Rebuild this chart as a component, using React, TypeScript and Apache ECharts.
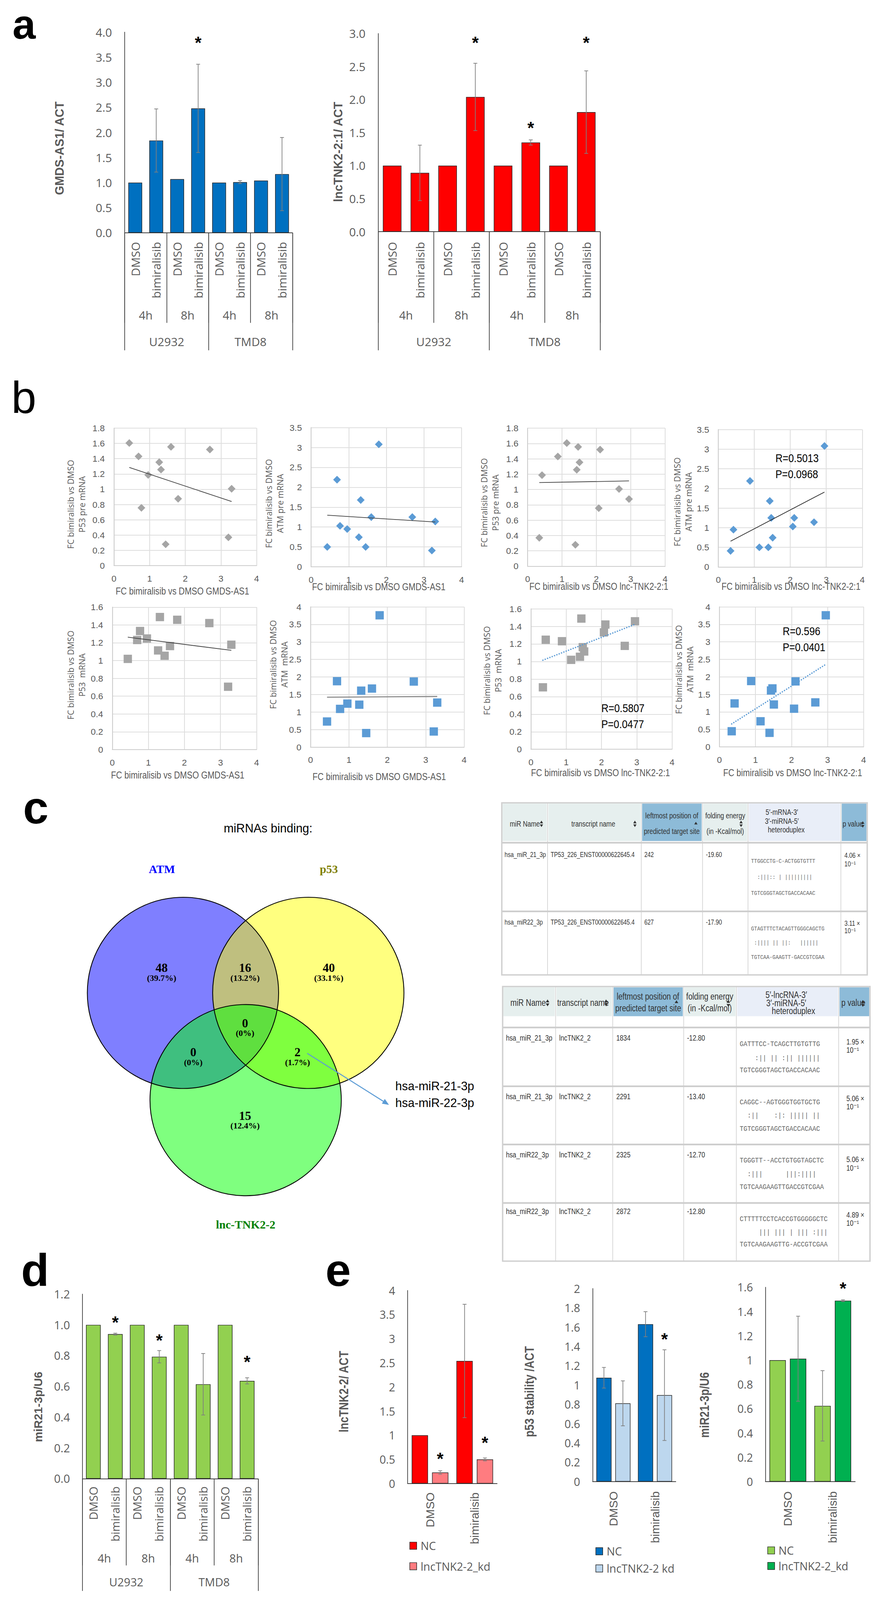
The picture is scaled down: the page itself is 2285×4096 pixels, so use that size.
import React, { useEffect, useRef } from "react";
import * as echarts from "echarts";

const PAGE_W = 2285;
const PAGE_H = 4096;
const K = PAGE_W / 3221;
const k = (v: number) => v * K;

const SEGOE = "'Open Sans', 'Noto Sans', 'DejaVu Sans', sans-serif";
const ARIAL = "'Liberation Sans', Arial, 'DejaVu Sans', sans-serif";
const TIMES = "'Liberation Serif', 'Times New Roman', 'DejaVu Serif', serif";
const MONO = "'Liberation Mono', 'DejaVu Sans Mono', monospace";
const GRAY_TXT = "#595959";
const AXIS_DARK = "#404040";
const TABLE_TXT = "#333333";

// ---------------- Panel a ----------------
const conditions = ["DMSO", "bimiralisib", "DMSO", "bimiralisib", "DMSO", "bimiralisib", "DMSO", "bimiralisib"];
const timePoints = ["4h", "8h", "4h", "8h"];
const cellLines = ["U2932", "TMD8"];
const gmdsMean = [1.0, 1.84, 1.07, 2.48, 1.0, 1.01, 1.04, 1.17];
const gmdsErr = [0, 0.63, 0, 0.88, 0, 0.03, 0, 0.73];
const gmdsStar = [null, null, null, 3.86, null, null, null, null];
const lnc21Mean = [1.0, 0.89, 1.0, 2.04, 1.0, 1.35, 1.0, 1.81];
const lnc21Err = [0, 0.42, 0, 0.51, 0, 0.04, 0, 0.625];
const lnc21Star = [null, null, null, 2.92, null, 1.63, null, 2.92];

// ---------------- Panel b (12 paired samples) ----------------
const fcGmds = [0.43, 0.69, 0.77, 0.96, 1.27, 1.32, 1.45, 1.6, 1.8, 2.69, 3.21, 3.3];
const fcLnc = [1.14, 0.88, 2.07, 0.42, 1.51, 1.43, 1.39, 1.47, 2.95, 2.11, 0.34, 2.66];
const p53PreFC = [1.605, 1.43, 0.756, 1.187, 1.354, 1.257, 0.279, 1.555, 0.875, 1.52, 0.37, 1.006];
const atmPreFC = [0.5, 2.19, 1.03, 0.95, 0.745, 1.68, 0.5, 1.25, 3.08, 1.25, 0.41, 1.14];
const p53FC = [1.019, 1.231, 1.332, 1.248, 1.114, 1.489, 1.054, 1.163, 1.458, 1.421, 0.706, 1.178];
const atmFC = [0.73, 1.88, 1.09, 1.24, 1.21, 1.61, 0.4, 1.67, 3.76, 1.87, 0.445, 1.27];
const corrLabels = [["R=0.5013", "P=0.0968"], ["R=0.5807", "P=0.0477"], ["R=0.596", "P=0.0401"]];

// ---------------- Panel c ----------------
const vennSets = ["ATM", "p53", "lnc-TNK2-2"];
const vennCounts = ["48", "16", "40", "0", "0", "2", "15"];
const vennPercents = ["(39.7%)", "(13.2%)", "(33.1%)", "(0%)", "(0%)", "(1.7%)", "(12.4%)"];
const sharedMirnas = ["hsa-miR-21-3p", "hsa-miR-22-3p"];

const mrnaHeader = ["miR Name", "transcript name", "leftmost position of", "predicted target site", "folding energy", "(in -Kcal/mol)", "5′-mRNA-3′", "3′-miRNA-5′", "heteroduplex", "p value"];
const mrnaMir = ["hsa_miR_21_3p", "hsa_miR22_3p"];
const mrnaTranscript = ["TP53_226_ENST00000622645.4", "TP53_226_ENST00000622645.4"];
const mrnaPos = ["242", "627"];
const mrnaEnergy = ["-19.60", "-17.90"];
const mrnaDuplex = [
  ["TTGGCCTG-C-ACTGGTGTTT", "  :|||:: | |||||||||", "TGTCGGGTAGCTGACCACAAC"],
  ["GTAGTTTCTACAGTTGGGCAGCTG", " :|||| || ||:   ||||||", "TGTCAA-GAAGTT-GACCGTCGAA"],
];
const mrnaP = [["4.06 ×", "10⁻¹"], ["3.11 ×", "10⁻¹"]];

const lncHeader = ["miR Name", "transcript name", "leftmost position of", "predicted target site", "folding energy", "(in -Kcal/mol)", "5′-lncRNA-3′", "3′-miRNA-5′", "heteroduplex", "p value"];
const lncMir = ["hsa_miR_21_3p", "hsa_miR_21_3p", "hsa_miR22_3p", "hsa_miR22_3p"];
const lncTranscript = ["lncTNK2_2", "lncTNK2_2", "lncTNK2_2", "lncTNK2_2"];
const lncPos = ["1834", "2291", "2325", "2872"];
const lncEnergy = ["-12.80", "-13.40", "-12.70", "-12.80"];
const lncDuplex = [
  ["GATTTCC-TCAGCTTGTGTTG", "    :|| || :|| ||||||", "TGTCGGGTAGCTGACCACAAC"],
  ["CAGGC--AGTGGGTGGTGCTG", "  :||    :|: ||||| ||", "TGTCGGGTAGCTGACCACAAC"],
  ["TGGGTT--ACCTGTGGTAGCTC", "  :|||      |||:||||", "TGTCAAGAAGTTGACCGTCGAA"],
  ["CTTTTTCCTCACCGTGGGGGCTC", "     ||| ||| | ||| :|||", "TGTCAAGAAGTTG-ACCGTCGAA"],
];
const lncP = [["1.95 ×", "10⁻¹"], ["5.06 ×", "10⁻¹"], ["5.06 ×", "10⁻¹"], ["4.89 ×", "10⁻¹"]];

// ---------------- Panel d ----------------
const mir21Mean = [1.0, 0.94, 1.0, 0.793, 1.0, 0.614, 1.0, 0.636];
const mir21Err = [0, 0.006, 0, 0.04, 0, 0.2, 0, 0.02];
const mir21Star = [null, 1.04, null, 0.924, null, null, null, 0.784];

// ---------------- Panel e ----------------
const kdCats = ["DMSO", "bimiralisib"];
const lncKdNC = [1.0, 2.54];
const lncKdNCErr = [0, 1.175];
const lncKdKD = [0.23, 0.5];
const lncKdKDErr = [0.035, 0.03];
const lncKdStar = [0.59, 0.92];
const p53StabNC = [1.076, 1.631];
const p53StabNCErr = [0.107, 0.13];
const p53StabKD = [0.811, 0.896];
const p53StabKDErr = [0.233, 0.47];
const p53StabStar = [null, 1.515];
const mirKdNC = [1.0, 0.624];
const mirKdNCErr = [0, 0.29];
const mirKdKD = [1.012, 1.49];
const mirKdKDErr = [0.35, 0.007];
const mirKdStar = [null, 1.62];
const legendNames = [["NC", "lncTNK2-2_kd"], ["NC", "lncTNK2-2 kd"], ["NC", "lncTNK2-2_kd"]];

// ================= helpers =================
function errRenderer(offsetFrac: number) {
  const cap = k(7);
  const star = k(62);
  return (params: any, api: any) => {
    const i = api.value(0);
    const m = api.value(1);
    const e = api.value(2);
    const s = api.value(3);
    const band = api.size([1, 0])[0];
    const p = api.coord([i, m]);
    const cx = p[0] + offsetFrac * band;
    const children: any[] = [];
    const st = { stroke: "#7f7f7f", lineWidth: k(2.5) };
    if (e > 0) {
      const yt = api.coord([i, m + e])[1];
      const yb = api.coord([i, m - e])[1];
      children.push({ type: "line", shape: { x1: cx, y1: yt, x2: cx, y2: yb }, style: st });
      children.push({ type: "line", shape: { x1: cx - cap, y1: yt, x2: cx + cap, y2: yt }, style: st });
      children.push({ type: "line", shape: { x1: cx - cap, y1: yb, x2: cx + cap, y2: yb }, style: st });
    }
    if (s > 0) {
      const ys = api.coord([i, s])[1];
      children.push({
        type: "text",
        x: cx,
        y: ys + 0.22 * star,
        style: { text: "*", fontSize: star, fontWeight: "bold", fontFamily: ARIAL, fill: "#000", align: "center", verticalAlign: "middle" },
      });
    }
    return { type: "group", children };
  };
}

function trendLine(xs: number[], ys: number[]) {
  const n = xs.length;
  const mx = xs.reduce((a, b) => a + b, 0) / n;
  const my = ys.reduce((a, b) => a + b, 0) / n;
  let sxy = 0;
  let sxx = 0;
  for (let i = 0; i < n; i++) {
    sxy += (xs[i] - mx) * (ys[i] - my);
    sxx += (xs[i] - mx) * (xs[i] - mx);
  }
  const b = sxy / sxx;
  const a = my - b * mx;
  const x0 = Math.min(...xs);
  const x1 = Math.max(...xs);
  return [[x0, a + b * x0], [x1, a + b * x1]];
}

function buildOption() {
  const grid: any[] = [];
  const xAxis: any[] = [];
  const yAxis: any[] = [];
  const series: any[] = [];
  const graphic: any[] = [];

  const addGrid = (l: number, t: number, r: number, b: number) => {
    grid.push({ left: k(l), top: k(t), width: k(r - l), height: k(b - t), containLabel: false, outerBoundsMode: "none", show: false });
    return grid.length - 1;
  };

  const txt = (s: string, x: number, y: number, o: any) => {
    graphic.push({
      type: "text",
      x: k(x),
      y: k(y),
      rotation: o.rot ?? 0,
      scaleX: o.sx ?? 1,
      silent: true,
      z: o.z ?? 60,
      style: {
        text: s,
        fontSize: k(o.size),
        fontFamily: o.family ?? ARIAL,
        fontWeight: o.weight ?? "normal",
        fill: o.color ?? "#000",
        align: o.align ?? "center",
        verticalAlign: o.va ?? "middle",
        lineHeight: o.lh ? k(o.lh) : undefined,
      },
    });
  };
  const ln = (x1: number, y1: number, x2: number, y2: number, color: string, w: number, z = 45) => {
    graphic.push({ type: "line", silent: true, z, shape: { x1: k(x1), y1: k(y1), x2: k(x2), y2: k(y2) }, style: { stroke: color, lineWidth: k(w) } });
  };
  const rc = (x: number, y: number, w: number, h: number, fill: string, stroke?: string, lw?: number, z = 40) => {
    graphic.push({
      type: "rect",
      silent: true,
      z,
      shape: { x: k(x), y: k(y), width: k(w), height: k(h) },
      style: { fill, stroke: stroke ?? "none", lineWidth: lw ? k(lw) : 0 },
    });
  };
  const poly = (pts: number[][], fill: string, z = 46) => {
    graphic.push({ type: "polygon", silent: true, z, shape: { points: pts.map((p) => [k(p[0]), k(p[1])]) }, style: { fill } });
  };

  // ---------- category bar panel ----------
  const catBarPanel = (p: any) => {
    const gi = addGrid(p.l, p.t, p.r, p.b);
    const xi = xAxis.length;
    xAxis.push({
      type: "category",
      gridIndex: gi,
      data: p.cats,
      position: "bottom",
      axisLine: { show: true, lineStyle: { color: AXIS_DARK, width: k(2.5) } },
      axisTick: { show: false },
      splitLine: { show: false },
      axisLabel: { interval: 0, rotate: 90, margin: k(p.catMargin), fontSize: k(p.catSize), fontFamily: p.catFamily, color: GRAY_TXT },
    });
    if (p.level2) {
      xAxis.push({
        type: "category",
        gridIndex: gi,
        data: p.level2,
        position: "bottom",
        axisLine: { show: false },
        axisTick: { show: true, length: k(p.l2Len), lineStyle: { color: AXIS_DARK, width: k(2.5) } },
        splitLine: { show: false },
        axisLabel: { interval: 0, margin: k(p.l2Margin), fontSize: k(p.catSize), fontFamily: p.catFamily, color: GRAY_TXT },
      });
      xAxis.push({
        type: "category",
        gridIndex: gi,
        data: p.level3,
        position: "bottom",
        axisLine: { show: false },
        axisTick: { show: true, length: k(p.l3Len), lineStyle: { color: AXIS_DARK, width: k(2.5) } },
        splitLine: { show: false },
        axisLabel: { interval: 0, margin: k(p.l3Margin), fontSize: k(p.catSize), fontFamily: p.catFamily, color: GRAY_TXT },
      });
    }
    const yi = yAxis.length;
    yAxis.push({
      type: "value",
      gridIndex: gi,
      min: 0,
      max: p.yMax,
      interval: p.yStep,
      axisLine: { show: true, lineStyle: { color: AXIS_DARK, width: k(2.5) } },
      axisTick: { show: false },
      splitLine: { show: false },
      axisLabel: {
        margin: k(p.yMargin),
        fontSize: k(p.tickSize),
        fontFamily: SEGOE,
        color: GRAY_TXT,
        formatter: p.decimals != null ? (v: number) => v.toFixed(p.decimals) : undefined,
      },
    });
    const n = p.bars.length;
    p.bars.forEach((bs: any) => {
      series.push({
        type: "bar",
        xAxisIndex: xi,
        yAxisIndex: yi,
        data: bs.data,
        barWidth: n === 1 ? p.barWidth : undefined,
        barGap: n > 1 ? "25%" : undefined,
        barCategoryGap: n > 1 ? "18%" : undefined,
        itemStyle: { color: bs.color, borderColor: "#262626", borderWidth: k(2) },
        silent: true,
        animation: false,
        z: 2,
      });
    });
    const offFrac = (0.82 * 1.25) / (2 * 2.25);
    p.bars.forEach((bs: any, si: number) => {
      const off = n === 1 ? 0 : si === 0 ? -offFrac : offFrac;
      series.push({
        type: "custom",
        xAxisIndex: xi,
        yAxisIndex: yi,
        renderItem: errRenderer(off),
        data: bs.data.map((m: number, i: number) => [i, m, bs.err[i], bs.star[i] ?? -1]),
        encode: { x: 0, y: 1 },
        silent: true,
        z: 5,
      });
    });
  };

  // ---------- scatter panel ----------
  const scatterPanel = (p: any) => {
    const gi = addGrid(p.l, p.t, p.r, p.b);
    const xi = xAxis.length;
    const axisLine = { show: true, onZero: false, lineStyle: { color: "#cccccc", width: k(3) } };
    const split = { show: true, lineStyle: { color: "#dedede", width: k(3) } };
    xAxis.push({
      type: "value",
      gridIndex: gi,
      min: 0,
      max: 4,
      interval: 1,
      axisLine,
      axisTick: { show: false },
      splitLine: split,
      axisLabel: { margin: k(30), fontSize: k(32), fontFamily: ARIAL, color: GRAY_TXT },
    });
    const yi = yAxis.length;
    yAxis.push({
      type: "value",
      gridIndex: gi,
      min: 0,
      max: p.yMax,
      interval: p.yStep,
      axisLine,
      axisTick: { show: false },
      splitLine: split,
      axisLabel: { margin: k(33), fontSize: k(32), fontFamily: ARIAL, color: GRAY_TXT },
    });
    series.push({
      type: "line",
      xAxisIndex: xi,
      yAxisIndex: yi,
      data: trendLine(p.xs, p.ys),
      symbol: "none",
      silent: true,
      z: 4,
      lineStyle: p.dotted
        ? { color: p.trendColor, width: k(p.trendWidth), type: [0.01, k(9)], cap: "round" }
        : { color: p.trendColor, width: k(p.trendWidth) },
    });
    series.push({
      type: "scatter",
      xAxisIndex: xi,
      yAxisIndex: yi,
      data: p.xs.map((x: number, i: number) => [x, p.ys[i]]),
      symbol: p.symbol,
      symbolSize: [k(p.size[0]), k(p.size[1])],
      itemStyle: { color: p.color, opacity: 1 },
      silent: true,
      z: 3,
    });
    txt(p.xTitle, p.xtx, p.xty, { size: 36, sx: 0.83, color: GRAY_TXT });
    txt(p.yTitle, p.ytx, p.yty, { size: 30, family: SEGOE, color: GRAY_TXT, rot: Math.PI / 2, lh: 41 });
  };

  // ================= Panel a =================
  txt("a", 45, 88, { size: 150, weight: "bold", align: "left", lh: 100 });
  catBarPanel({
    l: 450, t: 116, r: 1055, b: 840,
    cats: conditions, level2: timePoints, level3: cellLines,
    yMax: 4, yStep: 0.5, decimals: 1, tickSize: 42, yMargin: 46,
    catSize: 42, catFamily: SEGOE, catMargin: 33,
    l2Margin: 276, l2Len: 325, l3Margin: 372, l3Len: 424,
    barWidth: "66%",
    bars: [{ data: gmdsMean, err: gmdsErr, star: gmdsStar, color: "#0070c0" }],
  });
  txt("GMDS-AS1/ ACT", 214, 535, { size: 43, weight: "bold", color: GRAY_TXT, rot: Math.PI / 2 });
  catBarPanel({
    l: 1364.5, t: 121, r: 2164.5, b: 836,
    cats: conditions, level2: timePoints, level3: cellLines,
    yMax: 3, yStep: 0.5, decimals: 1, tickSize: 42, yMargin: 46,
    catSize: 42, catFamily: SEGOE, catMargin: 37,
    l2Margin: 280, l2Len: 329, l3Margin: 376, l3Len: 428,
    barWidth: "67%",
    bars: [{ data: lnc21Mean, err: lnc21Err, star: lnc21Star, color: "#ff0000" }],
  });
  txt("lncTNK2-2:1/ ACT", 1219, 548, { size: 43, weight: "bold", color: GRAY_TXT, rot: Math.PI / 2 });

  // ================= Panel b =================
  txt("b", 41, 1433, { size: 162, align: "left", lh: 130 });
  const xtG = "FC bimiralisib vs DMSO GMDS-AS1";
  const xtL = "FC bimiralisib vs DMSO lnc-TNK2-2:1";
  const GRAY_PT = "#a5a5a5";
  const BLUE_PT = "#5b9bd5";
  scatterPanel({ l: 411, t: 1545, r: 925.5, b: 2041, xs: fcGmds, ys: p53PreFC, yMax: 1.8, yStep: 0.2, symbol: "diamond", size: [28, 28], color: GRAY_PT, trendColor: "#404040", trendWidth: 2.5,
    xTitle: xtG, xtx: 658, xty: 2133, yTitle: "FC bimiralisib vs DMSO\nP53 pre mRNA", ytx: 275, yty: 1820 });
  scatterPanel({ l: 1122, t: 1543, r: 1665, b: 2045.5, xs: fcGmds, ys: atmPreFC, yMax: 3.5, yStep: 0.5, symbol: "diamond", size: [28, 28], color: BLUE_PT, trendColor: "#404040", trendWidth: 2.5,
    xTitle: xtG, xtx: 1366, xty: 2117, yTitle: "FC bimiralisib vs DMSO\nATM pre mRNA", ytx: 990, yty: 1817 });
  scatterPanel({ l: 1903, t: 1545, r: 2399, b: 2043, xs: fcLnc, ys: p53PreFC, yMax: 1.8, yStep: 0.2, symbol: "diamond", size: [28, 28], color: GRAY_PT, trendColor: "#404040", trendWidth: 2.5,
    xTitle: xtL, xtx: 2160, xty: 2116, yTitle: "FC bimiralisib vs DMSO\nP53 pre mRNA", ytx: 1766, yty: 1814 });
  scatterPanel({ l: 2591, t: 1550, r: 3110, b: 2046, xs: fcLnc, ys: atmPreFC, yMax: 3.5, yStep: 0.5, symbol: "diamond", size: [28, 28], color: BLUE_PT, trendColor: "#262626", trendWidth: 2.5,
    xTitle: xtL, xtx: 2853, xty: 2116, yTitle: "FC bimiralisib vs DMSO\nATM pre mRNA", ytx: 2463, yty: 1811 });
  scatterPanel({ l: 405, t: 2191, r: 925.5, b: 2705, xs: fcGmds, ys: p53FC, yMax: 1.6, yStep: 0.2, symbol: "rect", size: [30, 30], color: GRAY_PT, trendColor: "#404040", trendWidth: 2.5,
    xTitle: xtG, xtx: 641, xty: 2797, yTitle: "FC bimiralisib vs DMSO\nP53  mRNA", ytx: 275, yty: 2436 });
  scatterPanel({ l: 1120, t: 2190, r: 1674, b: 2696, xs: fcGmds, ys: atmFC, yMax: 4, yStep: 0.5, symbol: "rect", size: [30, 30], color: BLUE_PT, trendColor: "#8c8c8c", trendWidth: 4,
    xTitle: xtG, xtx: 1368, xty: 2803, yTitle: "FC bimiralisib vs DMSO\nATM  mRNA", ytx: 1005, yty: 2398 });
  scatterPanel({ l: 1915, t: 2197, r: 2424, b: 2704, xs: fcLnc, ys: p53FC, yMax: 1.6, yStep: 0.2, symbol: "rect", size: [30, 30], color: GRAY_PT, trendColor: BLUE_PT, trendWidth: 5, dotted: true,
    xTitle: xtL, xtx: 2166, xty: 2788, yTitle: "FC bimiralisib vs DMSO\nP53  mRNA", ytx: 1776, yty: 2420 });
  scatterPanel({ l: 2595, t: 2190, r: 3115, b: 2695, xs: fcLnc, ys: atmFC, yMax: 4, yStep: 0.5, symbol: "rect", size: [30, 30], color: BLUE_PT, trendColor: BLUE_PT, trendWidth: 5, dotted: true,
    xTitle: xtL, xtx: 2859, xty: 2788, yTitle: "FC bimiralisib vs DMSO\nATM  mRNA", ytx: 2468, yty: 2416 });
  txt(corrLabels[0][0], 2797, 1653, { size: 42, align: "left", sx: 0.85 });
  txt(corrLabels[0][1], 2797, 1711, { size: 42, align: "left", sx: 0.85 });
  txt(corrLabels[1][0], 2169, 2555, { size: 42, align: "left", sx: 0.85 });
  txt(corrLabels[1][1], 2169, 2613, { size: 42, align: "left", sx: 0.85 });
  txt(corrLabels[2][0], 2823, 2278, { size: 42, align: "left", sx: 0.85 });
  txt(corrLabels[2][1], 2823, 2336, { size: 42, align: "left", sx: 0.85 });

  // ================= Panel c =================
  txt("c", 83, 2915, { size: 165, weight: "bold", align: "left", lh: 110 });
  txt("miRNAs binding:", 967, 2989, { size: 43 });
  txt(vennSets[0], 584, 3136, { size: 42, family: TIMES, weight: "bold", color: "#0000ff" });
  txt(vennSets[1], 1186, 3136, { size: 42, family: TIMES, weight: "bold", color: "#808000" });
  txt(vennSets[2], 886, 4419, { size: 42, family: TIMES, weight: "bold", color: "#008000" });
  const vennC = [
    { cx: 660, cy: 3583, fill: "rgba(0,0,255,0.5)" },
    { cx: 1112, cy: 3583, fill: "rgba(255,255,0,0.5)" },
    { cx: 886, cy: 3970, fill: "rgba(0,255,0,0.5)" },
  ];
  vennC.forEach((c, i) => {
    graphic.push({ type: "circle", silent: true, z: 20 + i, shape: { cx: k(c.cx), cy: k(c.cy), r: k(345) }, style: { fill: c.fill, stroke: "none" } });
  });
  vennC.forEach((c) => {
    graphic.push({ type: "circle", silent: true, z: 30, shape: { cx: k(c.cx), cy: k(c.cy), r: k(345) }, style: { fill: "none", stroke: "#000", lineWidth: k(3) } });
  });
  const vennPos = [[583, 3493], [884, 3493], [1186, 3493], [884, 3692], [697, 3797], [1073, 3797], [884, 4026]];
  vennPos.forEach((p, i) => {
    txt(vennCounts[i], p[0], p[1], { size: 44, family: TIMES, weight: "bold" });
    txt(vennPercents[i], p[0], p[1] + 36, { size: 31, family: TIMES, weight: "bold" });
  });
  // arrow
  {
    const x1 = 1108, y1 = 3801, x2 = 1403, y2 = 3987;
    const dx = x2 - x1, dy = y2 - y1;
    const len = Math.sqrt(dx * dx + dy * dy);
    const ux = dx / len, uy = dy / len;
    const bx = x2 - 24 * ux, by = y2 - 24 * uy;
    ln(x1, y1, bx, by, "#5b9bd5", 3.5, 47);
    poly([[x2, y2], [bx - 10 * uy, by + 10 * ux], [bx + 10 * uy, by - 10 * ux]], "#5b9bd5", 47);
  }
  txt(sharedMirnas[0], 1426, 3919, { size: 43, align: "left" });
  txt(sharedMirnas[1], 1426, 3979, { size: 43, align: "left" });

  // ---------- tables ----------
  const nb = (s: string) => s.replace(/ /g, "\u00a0");
  const headFill = ["#e6efee", "#e6efee", "#8dbbd8", "#e6efee", "#e9eef8", "#8dbbd8"];
  const sortArrows = (x: number, y: number, single: boolean, sz: number) => {
    poly([[x - sz / 2, y - 2], [x + sz / 2, y - 2], [x, y - 2 - sz * 0.8]], "#333", 61);
    if (!single) poly([[x - sz / 2, y + 2], [x + sz / 2, y + 2], [x, y + 2 + sz * 0.8]], "#333", 61);
  };
  const drawTable = (t: any) => {
    const cols = t.cols;
    const left = cols[0], right = cols[cols.length - 1];
    rc(left, t.top, right - left, t.bottom - t.top, "#ffffff", undefined, 0, 35);
    for (let c = 0; c < 6; c++) rc(cols[c] + 3, t.headTop + 3, cols[c + 1] - cols[c] - 6, t.headBot - t.headTop - 6, headFill[c], undefined, 0, 36);
    for (let c = 1; c < 6; c++) ln(cols[c], t.top, cols[c], t.bottom, "#d4d4d4", 2.5, 37);
    t.rowLines.forEach((y: number) => ln(left, y, right, y, "#cdcdcd", 6, 38));
    graphic.push({ type: "rect", silent: true, z: 39, shape: { x: k(left), y: k(t.top), width: k(right - left), height: k(t.bottom - t.top) }, style: { fill: "none", stroke: "#d0d0d0", lineWidth: k(5) } });
  };

  // table 1 (mRNA)
  drawTable({ cols: [1810, 1975, 2313, 2534, 2698, 3033, 3128], top: 2897, bottom: 3518, headTop: 2897, headBot: 3038, rowLines: [3041, 3289] });
  {
    const hs = 28;
    const hp = [[1893, 2973], [2140, 2973], [2423, 2944], [2423, 3000], [2616, 2944], [2616, 3000], [2820, 2931], [2820, 2964], [2836, 2995], [3076, 2973]];
    mrnaHeader.forEach((h, i) => txt(h, hp[i][0], hp[i][1], { size: hs, sx: 0.82, color: TABLE_TXT, z: 62 }));
    sortArrows(1953, 2973, false, 12);
    sortArrows(2290, 2973, false, 12);
    sortArrows(2510, 2977, true, 12);
    sortArrows(2673, 2973, false, 12);
    sortArrows(3112, 2975, false, 12);
    const bx = [1820, 1986, 2324, 2546, 2709, 3046];
    const nameY = [3084, 3328];
    const dupY = [[3109, 3167, 3225], [3352, 3404, 3455]];
    const pY = [[3086, 3117], [3331, 3359]];
    for (let r = 0; r < 2; r++) {
      const o = { size: 25, sx: 0.82, color: TABLE_TXT, align: "left", z: 62 };
      txt(mrnaMir[r], bx[0], nameY[r], o);
      txt(mrnaTranscript[r], bx[1], nameY[r], o);
      txt(mrnaPos[r], bx[2], nameY[r], o);
      txt(mrnaEnergy[r], bx[3], nameY[r], o);
      mrnaDuplex[r].forEach((d, j) => txt(nb(d), bx[4], dupY[r][j], { size: 20, family: MONO, color: "#666", align: "left", sx: 0.92, z: 62 }));
      txt(mrnaP[r][0], bx[5], pY[r][0], o);
      txt(mrnaP[r][1], bx[5], pY[r][1], o);
    }
  }

  // table 2 (lncRNA)
  drawTable({ cols: [1813, 2004, 2210, 2466, 2656, 3025, 3138], top: 3560, bottom: 4551, headTop: 3560, headBot: 3670, rowLines: [3708, 3920, 4130, 4341] });
  {
    const hs = 33;
    const hp = [[1905, 3619], [2103, 3619], [2337, 3597], [2338, 3639], [2560, 3597], [2560, 3639], [2836, 3591], [2836, 3620], [2862, 3649], [3078, 3619]];
    lncHeader.forEach((h, i) => txt(h, hp[i][0], hp[i][1], { size: hs, sx: 0.82, color: TABLE_TXT, z: 62 }));
    sortArrows(1975, 3619, false, 13);
    sortArrows(2186, 3619, false, 13);
    sortArrows(2440, 3622, true, 13);
    sortArrows(2627, 3621, false, 13);
    sortArrows(3112, 3621, false, 13);
    const bx = [1825, 2017, 2223, 2478, 2668, 3053];
    const nameY = [3746, 3958, 4167, 4372];
    const dupY = [[3768, 3819, 3863], [3979, 4027, 4074], [4189, 4238, 4284], [4400, 4448, 4492]];
    const pY = [[3760, 3789], [3964, 3994], [4185, 4215], [4385, 4414]];
    for (let r = 0; r < 4; r++) {
      const o = { size: 28, sx: 0.82, color: TABLE_TXT, align: "left", z: 62 };
      txt(lncMir[r], bx[0], nameY[r], o);
      txt(lncTranscript[r], bx[1], nameY[r], o);
      txt(lncPos[r], bx[2], nameY[r], o);
      txt(lncEnergy[r], bx[3], nameY[r], o);
      lncDuplex[r].forEach((d, j) => txt(nb(d), bx[4], dupY[r][j], { size: 25, family: MONO, color: "#666", align: "left", sx: 0.92, z: 62 }));
      txt(lncP[r][0], bx[5], pY[r][0], o);
      txt(lncP[r][1], bx[5], pY[r][1], o);
    }
  }

  // ================= Panel d =================
  txt("d", 76, 4584, { size: 165, weight: "bold", align: "left", lh: 130 });
  catBarPanel({
    l: 297, t: 4670, r: 931, b: 5336,
    cats: conditions, level2: timePoints, level3: cellLines,
    yMax: 1.2, yStep: 0.2, decimals: 1, tickSize: 41, yMargin: 44.5,
    catSize: 41, catFamily: SEGOE, catMargin: 28,
    l2Margin: 266, l2Len: 313, l3Margin: 353, l3Len: 405,
    barWidth: "67%",
    bars: [{ data: mir21Mean, err: mir21Err, star: mir21Star, color: "#92d050" }],
  });
  txt("miR21-3p/U6", 137, 5077, { size: 42, weight: "bold", color: GRAY_TXT, rot: Math.PI / 2 });

  // ================= Panel e =================
  txt("e", 1174, 4584, { size: 165, weight: "bold", align: "left", lh: 110 });
  const ePanels = [
    { l: 1470.5, t: 4657, r: 1793, b: 5353.6, yMax: 4, yStep: 0.5, nc: lncKdNC, ncErr: lncKdNCErr, kd: lncKdKD, kdErr: lncKdKDErr, star: lncKdStar, c1: "#ff0000", c2: "#ff7c80", title: "lncTNK2-2/ ACT", tx: 1240, ty: 5022, catMargin: 32, leg: [1478, 5578, 5652] },
    { l: 2137.5, t: 4650, r: 2437.6, b: 5346.6, yMax: 2, yStep: 0.2, nc: p53StabNC, ncErr: p53StabNCErr, kd: p53StabKD, kdErr: p53StabKDErr, star: p53StabStar, c1: "#0070c0", c2: "#bdd7ee", title: "p53 stability /ACT", tx: 1910, ty: 5022, catMargin: 35, leg: [2149, 5598, 5660] },
    { l: 2760.8, t: 4645.4, r: 3084.7, b: 5346.6, yMax: 1.6, yStep: 0.2, nc: mirKdNC, ncErr: mirKdNCErr, kd: mirKdKD, kdErr: mirKdKDErr, star: mirKdStar, c1: "#92d050", c2: "#00b050", title: "miR21-3p/U6", tx: 2541, ty: 5070, catMargin: 35, leg: [2769, 5595, 5651] },
  ];
  ePanels.forEach((e, idx) => {
    catBarPanel({
      l: e.l, t: e.t, r: e.r, b: e.b,
      cats: kdCats,
      yMax: e.yMax, yStep: e.yStep, decimals: null, tickSize: 40, yMargin: 45,
      catSize: 42, catFamily: ARIAL, catMargin: e.catMargin,
      bars: [
        { data: e.nc, err: e.ncErr, star: [null, null], color: e.c1 },
        { data: e.kd, err: e.kdErr, star: e.star, color: e.c2 },
      ],
    });
    txt(e.title, e.tx, e.ty, { size: 46, weight: "bold", color: GRAY_TXT, rot: Math.PI / 2, sx: 0.85 });
    const [lx, y1, y2] = e.leg;
    rc(lx, y1 - 13, 25, 26, e.c1, "#262626", 2, 60);
    rc(lx, y2 - 13, 25, 26, e.c2, "#262626", 2, 60);
    txt(legendNames[idx][0], lx + 39, y1, { size: 40, family: SEGOE, color: GRAY_TXT, align: "left" });
    txt(legendNames[idx][1], lx + 39, y2, { size: 40, family: SEGOE, color: GRAY_TXT, align: "left" });
  });

  return {
    animation: false,
    backgroundColor: "#ffffff",
    grid,
    xAxis,
    yAxis,
    series,
    graphic: { elements: graphic },
  };
}

export default function App() {
  const ref = useRef<HTMLDivElement>(null);
  useEffect(() => {
    document.body.style.margin = "0";
    const chart = echarts.init(ref.current as HTMLDivElement, undefined, { renderer: "svg", width: PAGE_W, height: PAGE_H });
    chart.setOption(buildOption() as any);
    return () => chart.dispose();
  }, []);
  return <div ref={ref} style={{ width: PAGE_W, height: PAGE_H, background: "#fff" }} />;
}
